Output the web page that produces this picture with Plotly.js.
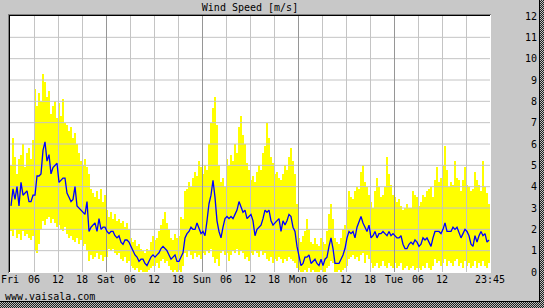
<!DOCTYPE html>
<html><head><meta charset="utf-8">
<script src="https://cdn.plot.ly/plotly-3.0.1.min.js"></script>
<style>
html,body{margin:0;padding:0;width:544px;height:308px;overflow:hidden;}
body{background:repeating-conic-gradient(#1e1e1e 0 25%, #bdbdbd 0 50%) 0 0/2px 2px;}
#wrap{position:absolute;left:0;top:0;width:539px;height:301px;border-right:1px solid #000;border-bottom:1px solid #000;background:#c8c8c8;}
#chart{width:539px;height:301px;}
</style></head><body><div id="wrap"><div id="chart"></div></div>
<script>
// ---- labels ----
const dayNames = ["Fri","Sat","Sun","Mon","Tue"];
const hourLabels = ["06","12","18"];
const lastLabel = "23:45";
const yTicks = [0,1,2,3,4,5,6,7,8,9,10,11,12];
const titleText = "Wind Speed [m/s]";
const creditText = "www.vaisala.com";

// ---- half-hourly wind data (m/s), 48 values per day ----
const avgFri = [3.1,3.9,3.4,4.0,3.1,4.2,3.6,3.7,3.8,3.3,3.3,3.6,3.6,4.5,4.5,4.6,5.7,6.1,5.2,5.5,4.6,4.9,5.0,5.1,4.2,4.3,4.4,4.4,3.7,3.5,3.3,3.4,4.0,3.1,3.0,2.9,2.8,2.7,3.3,1.9,2.1,2.2,2.3,1.9,2.5,2.0,2.1,2.1];
const maxFri = [5.0,6.3,5.4,4.6,5.3,5.5,6.0,4.9,5.6,5.8,5.3,6.2,8.6,7.8,8.4,8.0,9.3,8.9,8.2,8.5,7.4,7.8,8.0,7.2,7.9,7.3,8.1,7.0,6.9,6.6,6.8,6.3,6.5,6.0,5.6,5.2,5.0,5.3,4.9,4.6,3.9,3.7,3.5,3.8,3.4,3.9,3.3,3.6];
const minFri = [1.9,1.7,2.0,1.6,1.8,1.5,1.9,1.7,1.8,1.6,1.5,1.7,1.0,0.9,1.3,2.0,2.4,2.2,2.5,2.6,2.3,2.5,2.3,2.1,2.2,2.0,1.9,2.1,1.8,1.6,1.7,1.5,1.4,1.6,1.3,1.5,1.2,1.3,1.0,0.5,0.8,0.6,0.7,0.9,0.6,0.8,0.5,0.7];

const avgSat = [1.9,1.8,1.9,1.9,1.7,1.6,1.7,1.4,1.3,1.5,1.5,1.4,1.2,1.0,0.8,0.7,0.5,0.6,0.6,0.4,0.3,0.5,0.7,0.8,0.7,0.8,0.9,1.1,1.2,1.1,1.0,0.8,0.6,0.7,0.8,0.5,0.5,0.7,0.9,1.6,1.8,1.9,2.1,2.0,2.0,2.3,2.0,1.8];
const maxSat = [2.9,2.6,2.8,2.5,2.7,2.4,2.5,2.3,2.4,2.1,2.3,2.0,1.6,1.4,1.5,1.2,1.3,1.1,1.0,0.9,1.1,1.0,1.4,1.7,1.5,1.6,1.9,2.2,2.5,2.8,2.3,2.0,1.6,1.5,1.8,1.6,1.7,2.6,2.5,3.8,3.9,4.2,4.0,4.4,4.7,4.5,5.2,4.9];
const minSat = [0.7,1.1,1.0,1.1,0.9,0.8,0.9,0.6,0.5,0.7,0.4,0.5,0.3,0.2,0.1,0.2,0.0,0.1,0.0,0.0,0.0,0.1,0.2,0.3,0.3,0.4,0.2,0.5,0.6,0.4,0.5,0.3,0.1,0.0,0.1,0.0,0.1,0.0,0.3,0.9,0.7,1.0,0.8,0.6,0.9,0.7,0.8,0.6];

const avgSun = [1.9,1.7,2.4,3.2,3.6,4.3,3.5,2.4,1.9,1.6,2.1,2.5,2.6,2.5,2.6,2.5,2.7,2.9,3.3,3.0,2.8,2.9,2.5,2.6,2.7,2.4,1.7,2.0,2.1,2.2,2.5,2.9,2.8,2.9,2.4,2.2,2.3,2.4,2.5,1.9,2.4,2.2,2.4,2.7,2.6,2.1,1.9,1.2];
const maxSun = [4.6,5.0,4.8,6.0,7.0,7.7,8.2,6.9,5.0,4.2,4.4,4.0,5.3,5.0,5.5,5.2,6.0,5.6,6.8,7.3,6.4,6.0,5.1,4.8,4.3,4.5,4.2,4.7,5.0,4.8,5.6,5.9,7.0,6.3,5.4,5.1,4.6,4.7,4.4,4.3,4.6,5.0,4.8,5.4,5.8,5.2,4.6,3.2];
const minSun = [0.9,0.8,1.0,0.9,1.1,0.7,0.4,0.6,0.3,0.9,1.0,0.8,0.9,0.5,0.8,1.0,0.9,1.1,0.8,1.0,0.9,0.6,0.7,0.5,0.9,0.8,1.0,0.9,0.7,1.0,0.8,0.9,0.6,0.5,0.7,0.4,0.6,0.5,0.7,0.6,0.4,0.6,0.5,0.7,0.6,0.5,0.4,0.2];

const avgMon = [0.7,0.3,0.4,0.7,0.7,0.8,0.4,0.5,0.6,0.4,0.3,0.6,0.3,0.6,0.7,1.2,1.6,1.1,0.4,0.4,0.4,0.6,0.8,1.1,1.6,1.9,1.8,1.9,1.6,2.1,2.4,2.6,2.3,2.1,1.9,2.2,1.6,1.7,1.9,1.6,1.8,1.8,1.9,1.8,1.7,1.9,1.7,1.8];
const maxMon = [1.6,1.4,1.7,1.9,2.5,2.0,1.4,1.3,1.6,1.3,1.2,1.6,1.4,1.3,1.9,2.7,3.2,2.5,1.6,1.4,1.3,1.6,2.0,2.2,2.9,3.8,3.5,3.4,3.8,4.0,3.9,4.7,5.0,4.2,4.0,3.6,3.3,3.0,3.8,4.4,4.0,3.5,3.6,4.0,5.4,4.6,4.1,3.6];
const minMon = [0.1,0.0,0.0,0.1,0.0,0.2,0.0,0.1,0.0,0.0,0.0,0.1,0.0,0.0,0.2,0.3,0.5,0.4,0.0,0.0,0.1,0.0,0.1,0.2,0.3,0.6,0.7,0.8,0.6,0.7,0.5,0.8,0.9,0.4,0.8,0.6,0.4,0.2,0.3,0.4,0.2,0.3,0.5,0.3,0.2,0.4,0.3,0.2];

const avgTue = [1.7,1.6,1.6,1.7,1.3,1.1,1.1,1.3,1.4,1.3,1.5,1.4,1.2,1.3,1.6,1.5,1.6,1.4,1.2,1.6,1.9,1.9,1.9,1.8,2.0,2.3,1.9,1.9,1.9,2.1,2.0,2.1,1.8,1.6,1.8,2.0,1.9,1.7,1.3,1.2,1.7,1.4,1.7,1.9,1.7,1.8,1.4,1.5];
const maxTue = [3.5,3.3,3.4,3.1,2.9,3.0,3.2,3.0,3.0,3.8,3.6,3.5,3.1,3.3,3.6,3.5,3.8,3.9,4.0,3.5,4.3,4.9,4.2,4.4,5.0,5.9,4.8,4.0,4.2,4.1,5.2,4.4,4.3,3.8,4.3,4.9,4.1,4.0,3.8,3.9,4.7,4.3,4.1,3.8,5.2,4.0,3.7,3.2];
const minTue = [0.4,0.2,0.3,0.4,0.1,0.2,0.3,0.1,0.2,0.3,0.1,0.2,0.2,0.1,0.3,0.2,0.4,0.2,0.1,0.3,0.6,0.4,0.5,0.3,0.4,0.6,0.3,0.5,0.4,0.3,0.5,0.6,0.3,0.4,0.2,0.5,0.3,0.4,0.2,0.3,0.5,0.2,0.4,0.3,0.5,0.3,0.2,0.4];

// ---- assemble ----
const windAvg = [].concat(avgFri, avgSat, avgSun, avgMon, avgTue);
const windMax = [].concat(maxFri, maxSat, maxSun, maxMon, maxTue);
const windMin = [].concat(minFri, minSat, minSun, minMon, minTue);
const stepH = 0.5;                       // hours per sample
const tMid = windAvg.map((_, i) => i * stepH + stepH / 2);
const spanVals = windMax.map((v, i) => v - windMin[i]);
const totalH = dayNames.length * 24;

const tickVals = [], tickText = [];
dayNames.forEach((d, k) => {
  tickVals.push(24 * k); tickText.push(d);
  hourLabels.forEach((h, j) => {
    tickVals.push(24 * k + 6 * (j + 1));
    tickText.push(k === dayNames.length - 1 && j === hourLabels.length - 1 ? "" : h);
  });
});
tickVals.push(totalH); tickText.push(lastLabel);

// ---- geometry ----
const W = 539, H = 301, ML = 10, MR = 0, MT = 16, MB = 29;
const plotW = 480, plotH = H - MT - MB;
const paperW = W - ML - MR;
const px2x = p => (p - ML) / paperW;
const py2y = p => (MT + plotH - p) / plotH;
const halfPx = 0.5 * totalH / plotW;     // keeps vertical grid lines on whole pixels
const FONT = {family: "DejaVu Sans Mono, Liberation Mono, monospace", size: 10, color: "#000"};

// grid (drawn as traces so it sits above the yellow band, like the original)
const gLightX = [], gLightY = [], gDarkX = [], gDarkY = [];
tickVals.forEach(v => {
  if (v <= 0 || v >= totalH) return;
  const dark = v % 24 === 0;
  (dark ? gDarkX : gLightX).push(v + halfPx, v + halfPx, null);
  (dark ? gDarkY : gLightY).push(0, 12, null);
});
yTicks.forEach(v => {
  if (v <= 0 || v >= 12) return;
  gLightX.push(0, totalH, null); gLightY.push(v, v, null);
});

const traces = [
  {type: "bar", x: tMid, y: spanVals, base: windMin, width: stepH,
   marker: {color: "#ffff00", line: {width: 0}}, hoverinfo: "skip", xaxis: "x", yaxis: "y"},
  {type: "scatter", mode: "lines", x: gLightX, y: gLightY, line: {color: "#c4c4c4", width: 1},
   hoverinfo: "skip", connectgaps: false, xaxis: "x", yaxis: "y"},
  {type: "scatter", mode: "lines", x: gDarkX, y: gDarkY, line: {color: "#969696", width: 1},
   hoverinfo: "skip", connectgaps: false, xaxis: "x", yaxis: "y"},
  {type: "scatter", mode: "lines", x: tMid, y: windAvg, line: {color: "#0000ff", width: 1.3},
   hoverinfo: "skip", xaxis: "x", yaxis: "y2"}
];

const ln = (x0, y0, x1, y1, c) => ({type: "line", xref: "paper", yref: "paper",
  x0: px2x(x0), y0: py2y(y0), x1: px2x(x1), y1: py2y(y1), line: {color: c, width: 1}, layer: "above"});

const layout = {
  width: W, height: H,
  margin: {l: ML, r: MR, t: MT, b: MB, pad: 0},
  paper_bgcolor: "#c8c8c8", plot_bgcolor: "#ffffff",
  showlegend: false, bargap: 0, barmode: "overlay",
  font: FONT,
  title: {text: titleText, font: FONT, x: px2x(250), xref: "paper", xanchor: "center",
          y: 1 - 7.5 / H, yref: "container", yanchor: "middle"},
  xaxis: {domain: [0, plotW / paperW], range: [0, totalH], tickmode: "array",
          tickvals: tickVals, ticktext: tickText, showgrid: false, zeroline: false,
          showline: false, ticks: "", tickfont: FONT, tickangle: 0, fixedrange: true},
  yaxis: {domain: [0, 1], range: [0, 12], showgrid: false, zeroline: false,
          showticklabels: false, ticks: "", showline: false, fixedrange: true},
  yaxis2: {overlaying: "y", range: [0, 12], side: "left", anchor: "free", position: px2x(537),
           tickmode: "array", tickvals: yTicks, showgrid: false, zeroline: false,
           showline: false, ticks: "", tickfont: FONT, fixedrange: true},
  shapes: [
    ln(8.5, 14, 8.5, 273, "#808080"),
    ln(8, 14.5, 491, 14.5, "#808080"),
    ln(9.5, 15, 9.5, 272, "#000000"),
    ln(9, 15.5, 490, 15.5, "#000000"),
    ln(490.5, 15, 490.5, 273, "#ffffff"),
    ln(9, 272.5, 491, 272.5, "#ffffff")
  ],
  annotations: [
    {text: creditText, xref: "paper", yref: "paper", x: px2x(3), y: py2y(296),
     xanchor: "left", yanchor: "middle", showarrow: false, font: FONT}
  ]
};

Plotly.newPlot("chart", traces, layout, {staticPlot: true, displayModeBar: false});
</script></body></html>
